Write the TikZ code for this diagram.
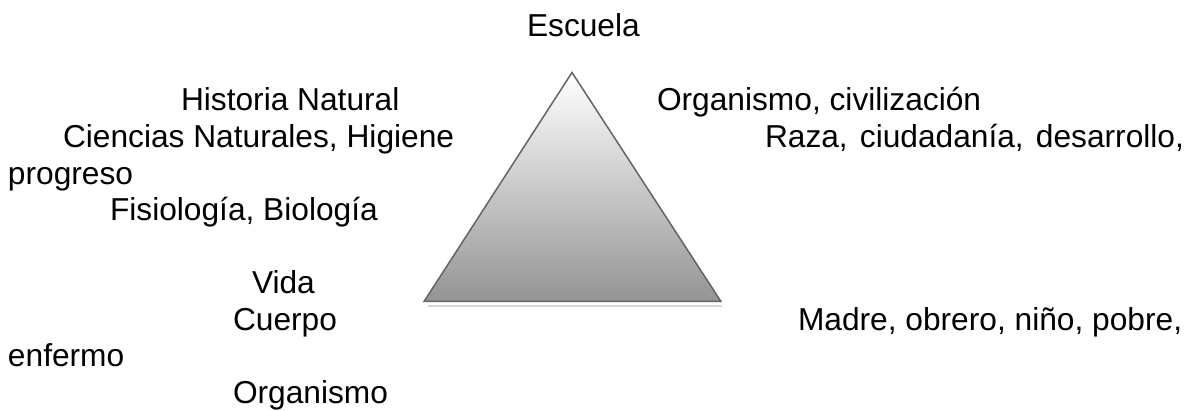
\documentclass[tikz,border=0pt]{standalone}
\usepackage{fontspec}
\setmainfont{Liberation Sans}
\definecolor{triedge}{RGB}{100,100,100}
\definecolor{tribottom}{RGB}{148,148,148}
\definecolor{trishadow}{RGB}{215,215,215}
\tikzset{
  lbl/.style={anchor=base west, inner sep=0pt, outer sep=0pt, font=\fontsize{31.7}{36.6}\selectfont, text=black},
}
\begin{document}
\begin{tikzpicture}[x=1pt,y=-1pt]
\useasboundingbox (0,0) rectangle (1196,411);
% triangle
\coordinate (apex) at (572,72.5);
\coordinate (bl) at (424,301.5);
\coordinate (br) at (721,301.5);
\coordinate (sl) at (428,305.8);
\coordinate (sr) at (722,305.8);
\draw[trishadow, line width=2.5pt] (sl) -- (sr);
\shadedraw[top color=white, bottom color=tribottom, draw=triedge, line width=1.5pt, line join=miter] (apex) -- (br) -- (bl) -- cycle;
% labels
\node[lbl] (escuela) at (527,36.7) {Escuela};
\node[lbl] (hist) at (181,110.5) {Historia Natural};
\node[lbl] (cien) at (63,147.1) {Ciencias Naturales, Higiene};
\node[lbl] (prog) at (8,184.2) {progreso};
\node[lbl] (fisio) at (110,221) {Fisiología, Biología};
\node[lbl] (vida) at (252,293.5) {Vida};
\node[lbl] (cuerpo) at (233,330.1) {Cuerpo};
\node[lbl] (enf) at (8,366.7) {enfermo};
\node[lbl] (orgl) at (233,403.3) {Organismo};
\node[lbl] (orgc) at (657,110.5) {Organismo, civilización};
\node[lbl] (raza) at (765,147.1) {\hbox to 419pt{Raza,\hfill ciudadanía,\hfill desarrollo,}};
\node[lbl] (madre) at (798,330.1) {Madre, obrero, niño, pobre,};
\end{tikzpicture}
\end{document}
